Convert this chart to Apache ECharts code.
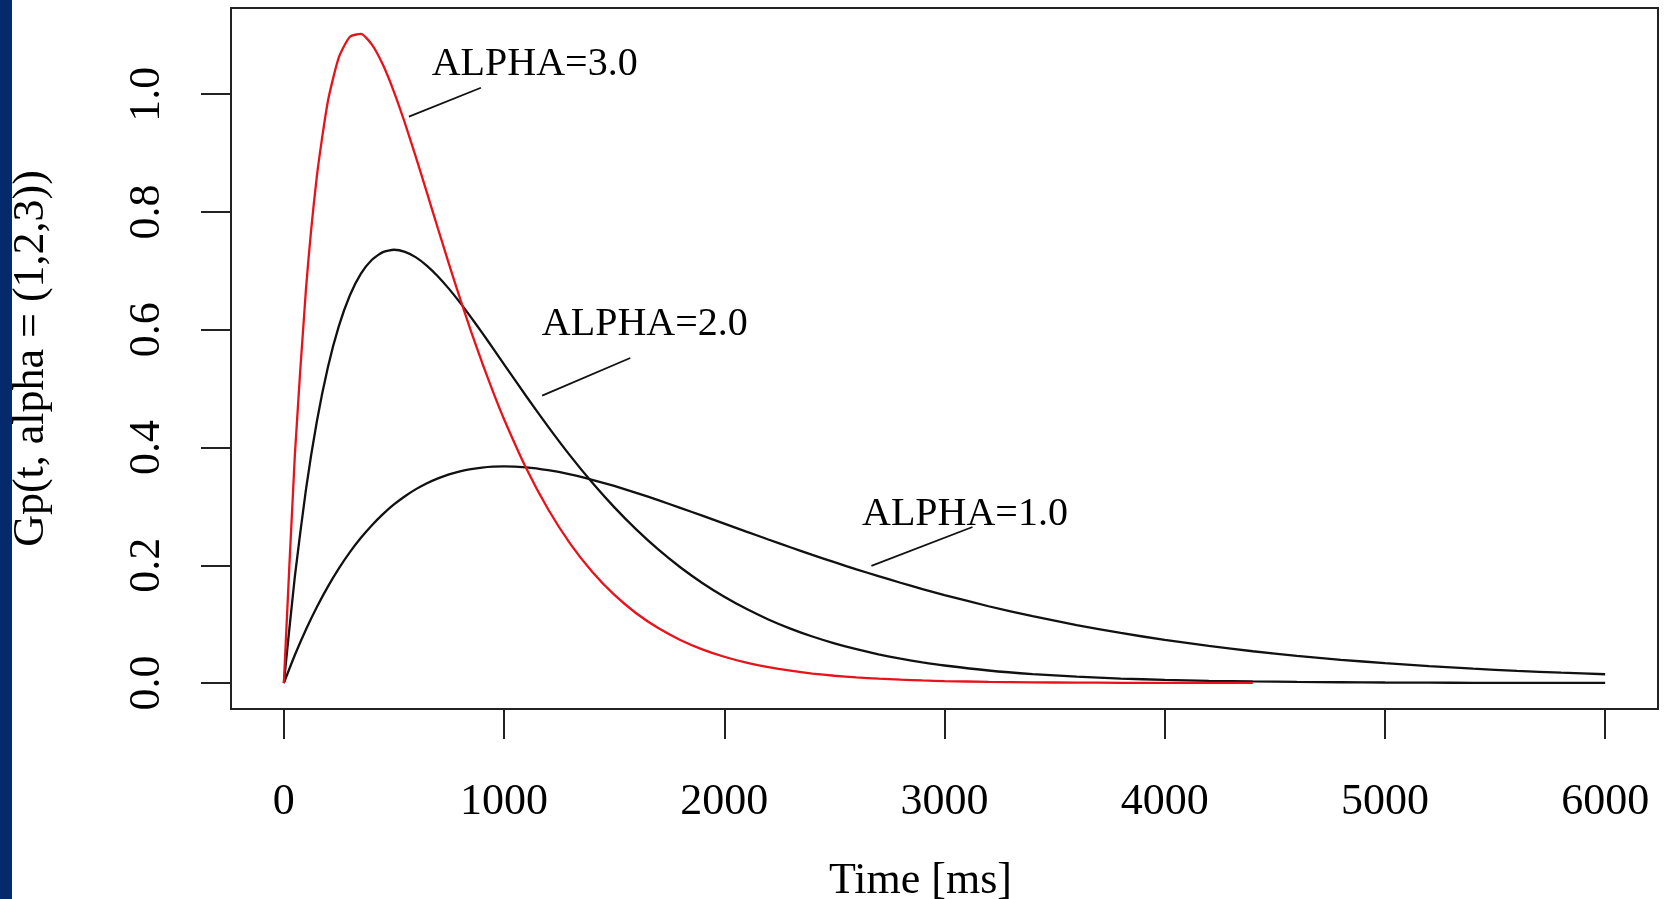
<!DOCTYPE html>
<html>
<head>
<meta charset="utf-8">
<title>Gp(t, alpha)</title>
<script src="https://cdn.jsdelivr.net/npm/echarts@6/dist/echarts.min.js"></script>
<style>
  html, body { margin: 0; padding: 0; background: #ffffff; }
  #chart { width: 1669px; height: 899px; }
</style>
</head>
<body>
<div id="chart"></div>
<script>
// Sample times (ms)
const times = [
  0, 50, 100, 150, 200, 250, 300, 350, 400, 450, 500, 550, 600, 650, 700, 750, 800, 850, 900, 950, 1000,
  1100, 1200, 1300, 1400, 1500, 1600, 1700, 1800, 1900, 2000, 2100, 2200, 2300, 2400, 2500, 2600, 2700, 2800, 2900, 3000,
  3200, 3400, 3600, 3800, 4000, 4200, 4400, 4600, 4800, 5000, 5200, 5400, 5600, 5800, 6000
];

// ALPHA=1.0
const alpha1 = [
  0, 0.0476, 0.0905, 0.1291, 0.1638, 0.1947, 0.2223, 0.2466, 0.2681, 0.2869, 0.3033, 0.3173, 0.3293, 0.3393, 0.3476, 0.3543, 0.3595, 0.3633, 0.3659, 0.3674, 0.3679,
  0.3662, 0.3614, 0.3543, 0.3452, 0.3347, 0.3230, 0.3106, 0.2975, 0.2842, 0.2707, 0.2572, 0.2438, 0.2306, 0.2177, 0.2052, 0.1931, 0.1815, 0.1703, 0.1596, 0.1494,
  0.1304, 0.1135, 0.0984, 0.0850, 0.0733, 0.0630, 0.0540, 0.0462, 0.0395, 0.0337, 0.0287, 0.0244, 0.0207, 0.0176, 0.0149
];

// ALPHA=2.0
const alpha2 = [
  0, 0.1810, 0.3275, 0.4445, 0.5363, 0.6065, 0.6586, 0.6952, 0.7189, 0.7318, 0.7358, 0.7323, 0.7229, 0.7086, 0.6905, 0.6694, 0.6461, 0.6211, 0.5951, 0.5684, 0.5413,
  0.4875, 0.4355, 0.3862, 0.3405, 0.2987, 0.2609, 0.2269, 0.1967, 0.1700, 0.1465, 0.1260, 0.1080, 0.0925, 0.0790, 0.0674, 0.0574, 0.0488, 0.0414, 0.0351, 0.0298,
  0.0213, 0.0152, 0.0108, 0.0076, 0.0054, 0.0038, 0.0027, 0.0019, 0.0013, 0.0009, 0.0006, 0.0004, 0.0003, 0.0002, 0.0002
];

// ALPHA=3.0 (drawn up to 4400 ms)
const alpha3 = [
  0, 0.3873, 0.6667, 0.8608, 0.9879, 1.0628, 1.0977, 1.1023, 1.0843, 1.0499, 1.0041, 0.9507, 0.8926, 0.8323, 0.7715, 0.7114, 0.6532, 0.5973, 0.5444, 0.4946, 0.4481,
  0.3651, 0.2951, 0.2368, 0.1890, 0.1500, 0.1185, 0.0933, 0.0732, 0.0572, 0.0446, 0.0347, 0.0269, 0.0209, 0.0161, 0.0124, 0.0096, 0.0074, 0.0057, 0.0044, 0.0033,
  0.0020, 0.0011, 0.0007, 0.0004, 0.0002, 0.0001, 0.0001
];

// Axis ticks
const xTicks = [0, 1000, 2000, 3000, 4000, 5000, 6000];
const yTicks = [0, 0.2, 0.4, 0.6, 0.8, 1.0];

// Curve annotations: text, text anchor, leader line ends (data units)
const annotLabels = ['ALPHA=3.0', 'ALPHA=2.0', 'ALPHA=1.0'];
const annotTextAt = [[1139, 1.051], [1639, 0.609], [3093, 0.286]];
const annotLeaderFrom = [[568, 0.962], [1173, 0.488], [2668, 0.199]];
const annotLeaderTo = [[895, 1.011], [1573, 0.552], [3127, 0.265]];

const serif = '"Liberation Serif", "DejaVu Serif", "Times New Roman", serif';
const ink = '#000000';

function pairs(xs, ys) {
  return ys.map((y, i) => [xs[i], y]);
}

const curveSeries = [
  { name: 'ALPHA=1.0', values: alpha1, color: '#111111' },
  { name: 'ALPHA=2.0', values: alpha2, color: '#111111' },
  { name: 'ALPHA=3.0', values: alpha3, color: '#e8131a' }
].map(c => ({
  name: c.name,
  type: 'line',
  data: pairs(times, c.values),
  showSymbol: false,
  symbol: 'none',
  smooth: 0.2,
  lineStyle: { color: c.color, width: 2.3 },
  silent: true,
  z: 3
}));

const leaderSeries = annotLeaderFrom.map((p, i) => ({
  type: 'line',
  data: [p, annotLeaderTo[i]],
  symbol: 'none',
  lineStyle: { color: '#111111', width: 1.8 },
  silent: true,
  z: 4
}));

const labelSeries = {
  type: 'scatter',
  symbolSize: 0,
  data: annotTextAt.map((p, i) => ({ value: p, name: annotLabels[i] })),
  label: {
    show: true,
    position: 'inside',
    formatter: p => p.name,
    fontFamily: serif,
    fontSize: 40,
    color: ink,
    textBorderWidth: 0,
    opacity: 1
  },
  silent: true,
  z: 5
};

const chart = echarts.init(document.getElementById('chart'), null, { renderer: 'canvas' });

chart.setOption({
  backgroundColor: '#ffffff',
  animation: false,
  graphic: [{
    type: 'rect',
    left: 0, top: 0,
    shape: { width: 12, height: 899 },
    style: { fill: '#042a6b' },
    silent: true
  }],
  grid: {
    left: 231, right: 11, top: 8, bottom: 190,
    containLabel: false,
    outerBoundsMode: 'none',
    show: true,
    borderColor: '#222222',
    borderWidth: 2,
    backgroundColor: 'transparent'
  },
  xAxis: {
    type: 'value',
    min: -240, max: 6240,
    name: 'Time [ms]',
    nameLocation: 'middle',
    nameGap: 150,
    nameTextStyle: { fontFamily: serif, fontSize: 44, color: ink, padding: [0, 48, 0, 0] },
    axisLine: { show: false, onZero: false },
    splitLine: { show: false },
    axisTick: { show: true, customValues: xTicks, length: 30, lineStyle: { color: '#222222', width: 2 } },
    axisLabel: {
      customValues: xTicks,
      fontFamily: serif, fontSize: 44, color: ink, margin: 71,
      formatter: v => String(v)
    }
  },
  yAxis: {
    type: 'value',
    min: -0.0441, max: 1.1464,
    name: 'Gp(t, alpha = (1,2,3))',
    nameLocation: 'middle',
    nameGap: 178,
    nameRotate: 90,
    nameTextStyle: { fontFamily: serif, fontSize: 44, color: ink },
    axisLine: { show: false, onZero: false },
    splitLine: { show: false },
    axisTick: { show: true, customValues: yTicks, length: 30, lineStyle: { color: '#222222', width: 2 } },
    axisLabel: {
      customValues: yTicks,
      rotate: 90,
      fontFamily: serif, fontSize: 44, color: ink, margin: 62,
      formatter: v => v.toFixed(1)
    }
  },
  series: [...curveSeries, ...leaderSeries, labelSeries]
});
</script>
</body>
</html>
